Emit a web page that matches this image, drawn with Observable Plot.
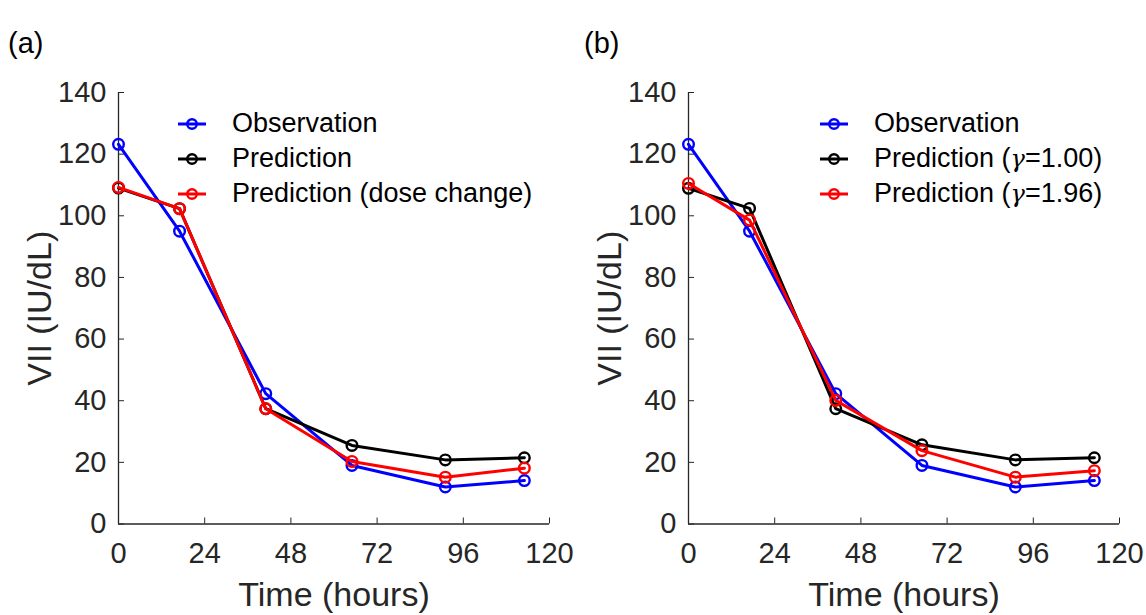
<!DOCTYPE html>
<html>
<head>
<meta charset="utf-8">
<script src="https://cdn.jsdelivr.net/npm/d3@7"></script>
<script src="https://cdn.jsdelivr.net/npm/@observablehq/plot@0.6"></script>
<style>
  html, body { margin: 0; padding: 0; background: #fff; }
  #wrap { position: relative; width: 1146px; height: 615px; overflow: hidden; font-family: "Liberation Sans", Arial, sans-serif; }
  .panel { position: absolute; top: 0; }
  .plabel { position: absolute; font-size: 29px; line-height: 29px; color: #000; }
  .legend { position: absolute; font-size: 27px; color: #000; }
  .legend .row { display: flex; align-items: center; height: 35px; line-height: 35px; white-space: nowrap; }
  .legend svg { display: block; }
</style>
</head>
<body>
<div id="wrap"></div>
<script>
// ---- data ----
const time = [0, 17, 41, 65, 91, 113];                 // hours
const observation    = [123.2, 95.0, 42.3, 19.0, 12.0, 14.1];
const prediction     = [109.0, 102.3, 37.4, 25.5, 20.8, 21.5];
const predictionDose = [109.2, 102.3, 37.4, 20.3, 15.2, 18.1];
const predictionG100 = [108.9, 102.4, 37.4, 25.7, 20.8, 21.5];
const predictionG196 = [110.5, 98.6, 40.1, 23.8, 15.2, 17.3];
const xTicks = [0, 24, 48, 72, 96, 120];
const yTicks = [0, 20, 40, 60, 80, 100, 120, 140];
const namesA = ["Observation", "Prediction", "Prediction (dose change)"];
const namesB = ["Observation", "Prediction (γ=1.00)", "Prediction (γ=1.96)"];
const colors = ["#0000ff", "#000000", "#ff0000"];
const panelTags = ["(a)", "(b)"];

const wrap = document.getElementById("wrap");
const FONT = '"Liberation Sans", Arial, sans-serif';
const INK = "#262626";

function makePanel(seriesValues, names, opt) {
  const marks = [
    Plot.ruleX([0], {stroke: INK, strokeWidth: 1.3}),
    Plot.ruleY([0], {stroke: INK, strokeWidth: 1.3})
  ];
  seriesValues.forEach((vals, k) => {
    const d = time.map((t, i) => ({t, v: vals[i]}));
    marks.push(Plot.line(d, {x: "t", y: "v", stroke: colors[k], strokeWidth: 3}));
    marks.push(Plot.dot(d, {x: "t", y: "v", r: 5.3, stroke: colors[k], strokeWidth: 2.4, fill: "none"}));
  });
  const svg = Plot.plot({
    width: opt.width,
    height: 615,
    marginLeft: 118,
    marginRight: opt.marginRight,
    marginTop: 92,
    marginBottom: 91.5,
    style: {fontFamily: FONT, fontSize: "29px", color: INK, background: "transparent", overflow: "visible"},
    x: {domain: [0, 120], ticks: xTicks, tickFormat: d => String(d), tickSize: -6, tickPadding: 24,
        label: "Time (hours)", labelAnchor: "center", labelOffset: 82, labelArrow: "none"},
    y: {domain: [0, 140], ticks: yTicks, tickFormat: d => String(d), tickSize: -6, tickPadding: 18,
        label: "VII (IU/dL)", labelAnchor: "center", labelOffset: 92, labelArrow: "none"},
    marks
  });
  d3.select(svg).selectAll('[aria-label="x-axis label"], [aria-label="y-axis label"]').attr("font-size", 34);
  d3.select(svg).selectAll('[aria-label="x-axis label"] text, [aria-label="y-axis label"] text')
    .attr("font-size", 34).attr("fill", INK);
  const div = document.createElement("div");
  div.className = "panel";
  div.style.left = opt.left + "px";
  div.appendChild(svg);
  wrap.appendChild(div);

  // panel tag
  const tag = document.createElement("div");
  tag.className = "plabel";
  tag.style.left = opt.tagLeft + "px";
  tag.style.top = "29px";
  tag.textContent = opt.tag;
  wrap.appendChild(tag);

  // legend
  const leg = document.createElement("div");
  leg.className = "legend";
  leg.style.left = opt.legLeft + "px";
  leg.style.top = "106px";
  names.forEach((name, k) => {
    const row = document.createElement("div");
    row.className = "row";
    const s = d3.create("svg").attr("width", 28).attr("height", 14);
    s.append("line").attr("x1", 0).attr("x2", 28).attr("y1", 7).attr("y2", 7)
      .attr("stroke", colors[k]).attr("stroke-width", 3);
    s.append("circle").attr("cx", 14).attr("cy", 7).attr("r", 4.8)
      .attr("fill", "none").attr("stroke", colors[k]).attr("stroke-width", 2.4);
    row.appendChild(s.node());
    const txt = document.createElement("span");
    txt.style.marginLeft = "26px";
    txt.innerHTML = name.replace("γ", '<span style="font-family:\'DejaVu Serif\',serif;font-style:italic;font-size:24px">γ</span>');
    row.appendChild(txt);
    leg.appendChild(row);
  });
  wrap.appendChild(leg);
}

makePanel([observation, prediction, predictionDose], namesA,
  {left: 0, width: 580, marginRight: 31, tag: panelTags[0], tagLeft: 8, legLeft: 178});
makePanel([observation, predictionG100, predictionG196], namesB,
  {left: 570, width: 576, marginRight: 27, tag: panelTags[1], tagLeft: 584, legLeft: 820});
</script>
</body>
</html>
